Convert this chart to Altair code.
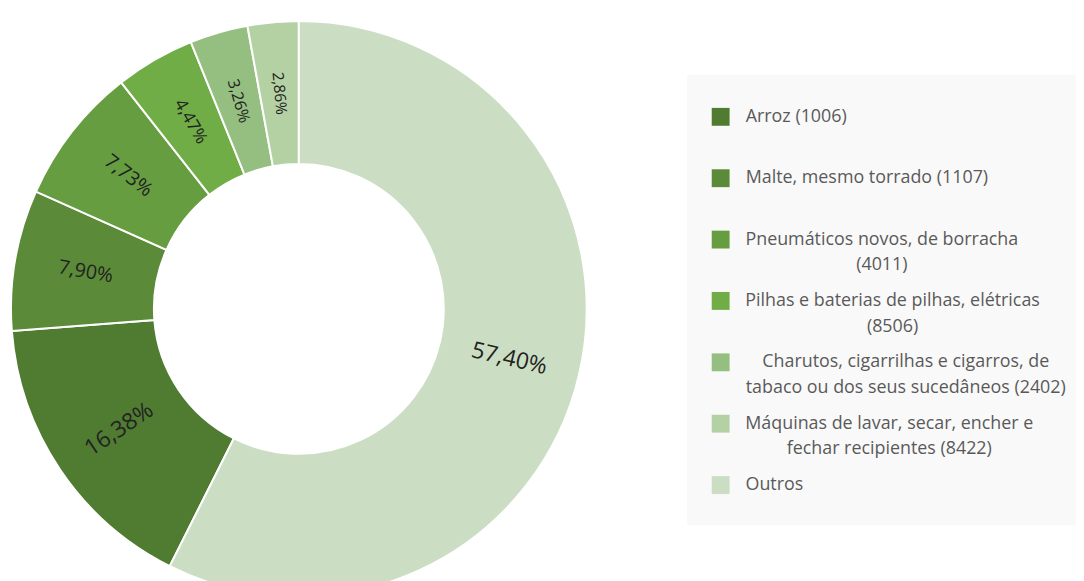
import altair as alt
import pandas as pd

# Legend order (top to bottom)
labels = [
    "Arroz (1006)",
    "Malte, mesmo torrado (1107)",
    "Pneumáticos novos, de borracha\n(4011)",
    "Pilhas e baterias de pilhas, elétricas\n(8506)",
    "Charutos, cigarrilhas e cigarros, de\ntabaco ou dos seus sucedâneos (2402)",
    "Máquinas de lavar, secar, encher e\nfechar recipientes (8422)",
    "Outros",
]
shares = [16.38, 7.90, 7.73, 4.47, 3.26, 2.86, 57.40]
# order of slices clockwise from 12 o'clock
slice_order = [1, 2, 3, 4, 5, 6, 0]
colors = ["#507c32", "#5b8b38", "#669d40", "#70ad47", "#95bf80", "#b4d1a4", "#cbdec3"]

FONT = "Open Sans"
LEG_FS = 18

# approximate Open Sans advance widths (units per 2048 em) for centring legend blocks
_W = {
    "a": 1139, "b": 1255, "c": 975, "d": 1255, "e": 1149, "f": 694, "g": 1122, "h": 1257,
    "i": 518, "j": 518, "k": 1075, "l": 518, "m": 1905, "n": 1257, "o": 1237, "p": 1255,
    "q": 1255, "r": 836, "s": 977, "t": 723, "u": 1257, "v": 1026, "w": 1593, "x": 1073,
    "y": 1028, "z": 977, " ": 532, ",": 500, "(": 621, ")": 621, "á": 1139, "â": 1139,
    "é": 1149, "A": 1296, "C": 1292, "M": 1849, "O": 1599, "P": 1219,
}


def text_width(s):
    return sum(_W.get(ch, 1171) for ch in s) / 2048 * LEG_FS


df = pd.DataFrame({"label": labels, "share": shares, "slice_ord": slice_order})
df["blockw"] = [max(text_width(s) for s in l.split("\n")) for l in labels]

CX, CY = 293, 301
R_OUT, R_IN = 290, 146

color_scale = alt.Scale(domain=labels, range=colors)
theta = alt.Theta("share:Q", stack=True)
order = alt.Order("slice_ord:Q", sort="ascending")

bg = alt.Chart(pd.DataFrame({"a": [0]})).mark_rect(color="#f9f9f9").encode(
    x=alt.value(684), x2=alt.value(1076), y=alt.value(65), y2=alt.value(519)
)

arcs = alt.Chart(df).mark_arc(
    innerRadius=R_IN, outerRadius=R_OUT, stroke="white", strokeWidth=2
).encode(
    theta=theta,
    order=order,
    color=alt.Color("label:N", scale=color_scale, legend=None),
    x=alt.value(CX),
    y=alt.value(CY),
)

pct = alt.Chart(df).transform_joinaggregate(
    total="sum(share)"
).transform_window(
    cum="sum(share)", sort=[alt.SortField("slice_ord")], frame=[None, 0]
).transform_calculate(
    mid="(datum.cum - datum.share/2) / datum.total * 360",
).transform_calculate(
    rot="((datum.mid < 180 ? datum.mid - 90 : datum.mid - 270) + 360) % 360",
    pct="replace(format(datum.share, '.2f'), '.', ',') + '%'",
).mark_text(
    radius=(R_IN + R_OUT) / 2, font=FONT, color="#222222", align="center", baseline="middle"
).encode(
    theta=theta,
    order=order,
    text="pct:N",
    angle=alt.Angle("rot:Q", scale=None),
    size=alt.Size("share:Q", scale=alt.Scale(type="log", domain=[2.86, 16.38], range=[15.5, 23], clamp=True), legend=None),
    x=alt.value(CX),
    y=alt.value(CY),
)

yscale = alt.Scale(type="point", domain=labels, range=[107.5, 478.5], padding=0)

squares = alt.Chart(df).mark_square(size=324, opacity=1, filled=True).encode(
    x=alt.value(718),
    y=alt.Y("label:N", scale=yscale, axis=None),
    color=alt.Color("label:N", scale=color_scale, legend=None),
)

leg_text = alt.Chart(df).transform_calculate(
    xc="743 + datum.blockw / 2"
).mark_text(
    align="center", baseline="middle", lineBreak="\n", lineHeight=26,
    fontSize=LEG_FS, font=FONT, color="#595959"
).encode(
    x=alt.X("xc:Q", scale=None, axis=None),
    y=alt.Y("label:N", scale=yscale, axis=None),
    text="label:N",
)

chart = alt.layer(bg, arcs, pct, squares, leg_text).properties(
    width=1076, height=573, autosize="none", padding=0, background="white"
).configure_view(stroke=None)

chart.save("out.html", embed_options={"renderer": "svg", "actions": False})
